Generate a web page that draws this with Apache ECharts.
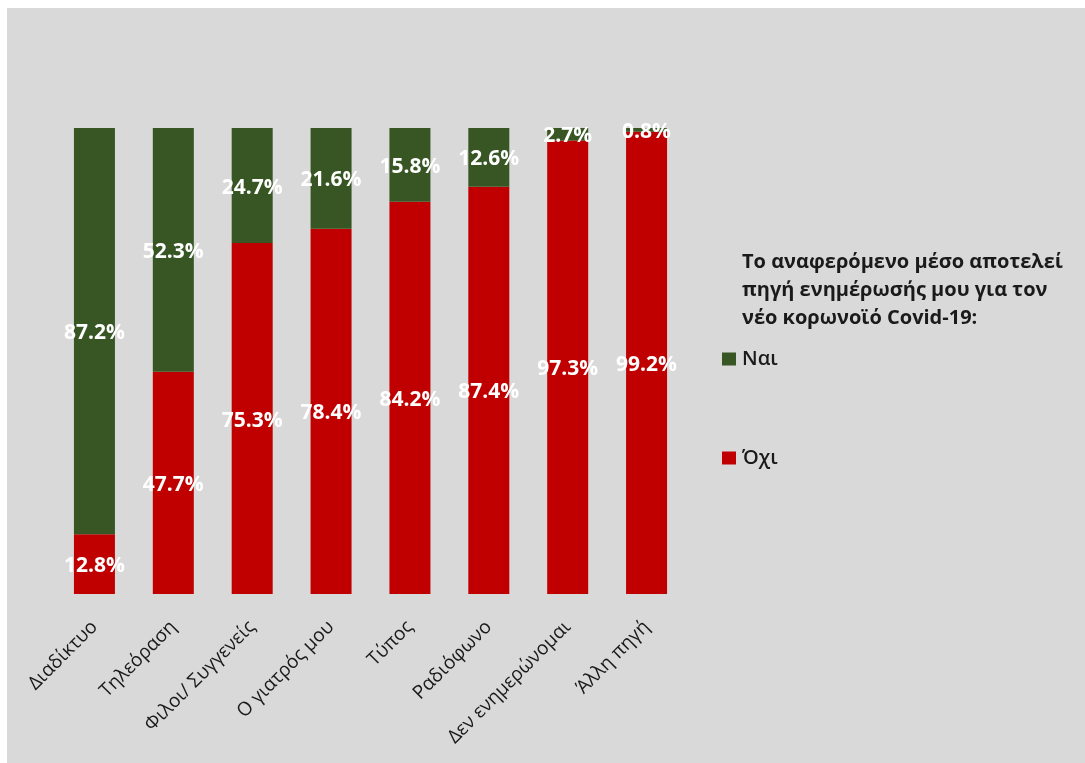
<!DOCTYPE html>
<html>
<head>
<meta charset="utf-8">
<script src="https://cdn.jsdelivr.net/npm/echarts@6/dist/echarts.min.js"></script>
<style>
  html, body { margin: 0; padding: 0; background: #ffffff; }
  #chart { position: absolute; left: 7px; top: 8px; width: 1078px; height: 755px; }
</style>
</head>
<body>
<div id="chart"></div>
<script>
// Information sources for Covid-19 news
const categories = ['Διαδίκτυο', 'Τηλεόραση', 'Φιλοι/ Συγγενείς', 'Ο γιατρός μου', 'Τύπος', 'Ραδιόφωνο', 'Δεν ενημερώνομαι', 'Άλλη πηγή'];
const yesValues = [87.2, 52.3, 24.7, 21.6, 15.8, 12.6, 2.7, 0.8];
const noValues = [12.8, 47.7, 75.3, 78.4, 84.2, 87.4, 97.3, 99.2];
const legendTitle = 'Το αναφερόμενο μέσο αποτελεί\nπηγή ενημέρωσής μου για τον\nνέο κορωνοϊό Covid-19:';

const fontFamily = '"Open Sans", "Noto Sans", sans-serif';
const chart = echarts.init(document.getElementById('chart'));

const valueLabel = {
  show: true,
  position: 'inside',
  offset: [0, 2],
  color: '#ffffff',
  fontWeight: 'bold',
  fontSize: 21,
  fontFamily: fontFamily,
  formatter: p => p.value.toFixed(1) + '%'
};

chart.setOption({
  backgroundColor: '#d9d9d9',
  animation: false,
  title: {
    text: legendTitle,
    left: 730,
    top: 235,
    textStyle: {
      color: '#1a1a1a',
      fontWeight: 'bold',
      fontSize: 20,
      lineHeight: 28,
      fontFamily: fontFamily
    }
  },
  legend: {
    orient: 'vertical',
    left: 710,
    top: 336,
    itemWidth: 14,
    itemHeight: 13,
    itemGap: 79,
    icon: 'rect',
    data: ['Ναι', 'Όχι'],
    textStyle: { color: '#1a1a1a', fontSize: 20, fontWeight: 600, fontFamily: fontFamily, padding: [0, 0, 0, 1] }
  },
  grid: {
    left: 48,
    top: 120,
    width: 631,
    bottom: 169
  },
  xAxis: {
    type: 'category',
    data: categories,
    axisLine: { show: false },
    axisTick: { show: false },
    axisLabel: {
      rotate: 45,
      margin: 30,
      interval: 0,
      color: '#1a1a1a',
      fontSize: 19,
      fontFamily: fontFamily
    }
  },
  yAxis: {
    type: 'value',
    min: 0,
    max: 100,
    show: false,
    splitLine: { show: false }
  },
  series: [
    {
      name: 'Όχι',
      type: 'bar',
      stack: 'total',
      barWidth: 41,
      data: noValues,
      itemStyle: { color: '#c00000' },
      label: valueLabel
    },
    {
      name: 'Ναι',
      type: 'bar',
      stack: 'total',
      barWidth: 41,
      data: yesValues,
      itemStyle: { color: '#375623' },
      label: valueLabel
    }
  ]
});
</script>
</body>
</html>
